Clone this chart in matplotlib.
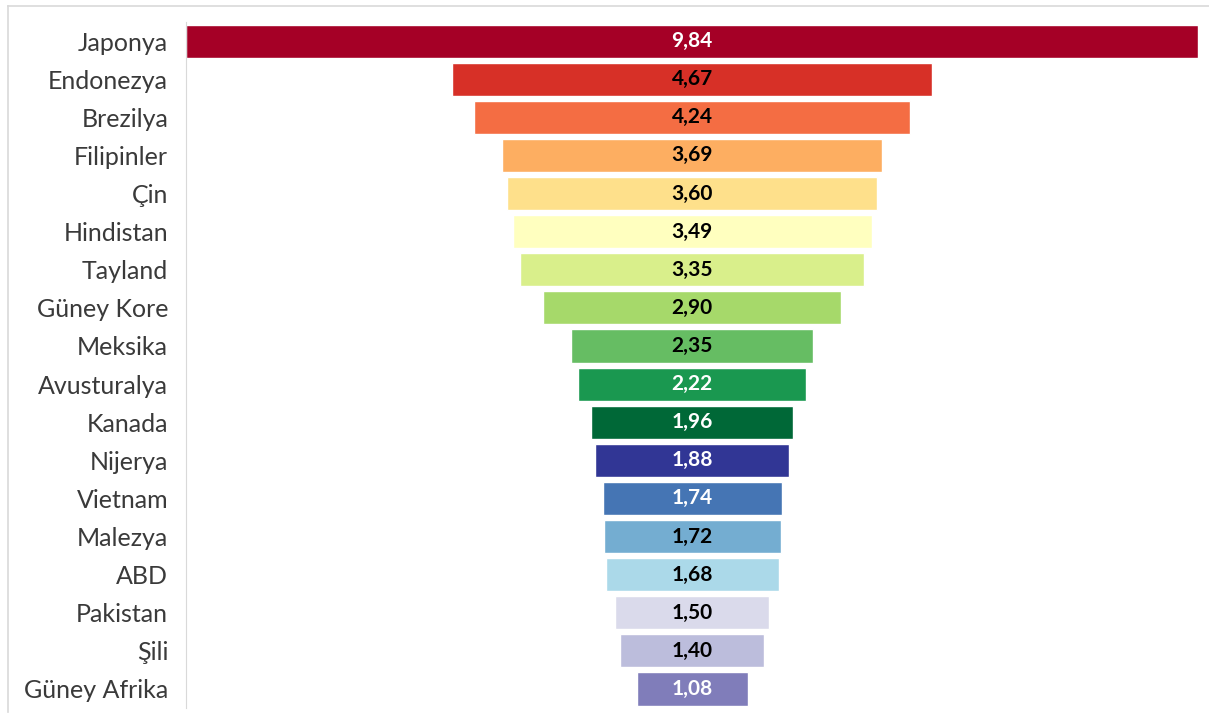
import matplotlib.pyplot as plt
from matplotlib.lines import Line2D

countries = ['Japonya', 'Endonezya', 'Brezilya', 'Filipinler', 'Çin', 'Hindistan',
             'Tayland', 'Güney Kore', 'Meksika', 'Avusturalya', 'Kanada', 'Nijerya',
             'Vietnam', 'Malezya', 'ABD', 'Pakistan', 'Şili', 'Güney Afrika']
values = [9.84, 4.67, 4.24, 3.69, 3.60, 3.49, 3.35, 2.90, 2.35, 2.22, 1.96, 1.88,
          1.74, 1.72, 1.68, 1.50, 1.40, 1.08]
colors = ['#A50026', '#D73027', '#F46D43', '#FDAE61', '#FEE08B', '#FFFFBF',
          '#D9EF8B', '#A6D96A', '#66BD63', '#1A9850', '#006837', '#313695',
          '#4575B4', '#74ADD1', '#ABD9E9', '#DADAEB', '#BCBDDC', '#807DBA']
white_text = {'Japonya', 'Avusturalya', 'Kanada', 'Nijerya', 'Vietnam', 'Güney Afrika'}

plt.rcParams['font.family'] = ['Lato', 'DejaVu Sans']

fig = plt.figure(figsize=(12.09, 7.22), dpi=100)
ax = fig.add_axes([0.154, 0.0194, 0.837, 0.950])

y = range(len(values))
lefts = [-v / 2 for v in values]
ax.barh(y, values, left=lefts, height=0.87, color=colors,
        edgecolor='white', linewidth=1)

for i, (c, v) in enumerate(zip(countries, values)):
    tc = 'white' if c in white_text else 'black'
    ax.text(0, i, f'{v:.2f}'.replace('.', ','), ha='center', va='center',
            fontsize=15, fontweight='bold', color=tc)

ax.set_yticks(list(y))
ax.set_yticklabels(countries, fontsize=18, color='#3A3A3A')
ax.set_ylim(len(values) - 0.5, -0.5)
ax.set_xlim(-max(values) / 2, max(values) / 2)
ax.set_xticks([])
ax.tick_params(axis='y', length=0, pad=13)
for s in ['top', 'right', 'bottom']:
    ax.spines[s].set_visible(False)
ax.spines['left'].set_color('#D9D9D9')

# outer chart border (top and left visible)
fig.add_artist(Line2D([8 / 1209, 1], [1 - 6 / 722, 1 - 6 / 722], color='#D9D9D9', lw=1.2))
fig.add_artist(Line2D([8 / 1209, 8 / 1209], [1 - 6 / 722, 1 - 712 / 722], color='#D9D9D9', lw=1.2))

plt.savefig('out.png')
